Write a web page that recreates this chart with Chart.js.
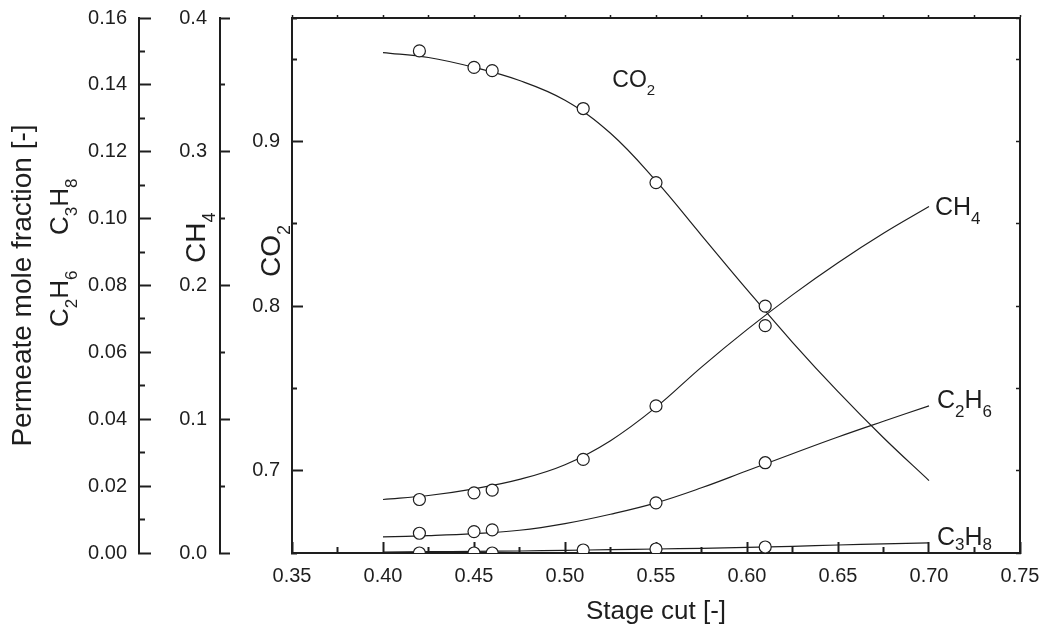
<!DOCTYPE html>
<html>
<head>
<meta charset="utf-8">
<title>Permeate mole fraction vs stage cut</title>
<script src="https://cdn.jsdelivr.net/npm/chart.js@4/dist/chart.umd.min.js"></script>
<style>
  html, body { margin: 0; padding: 0; background: #fff; }
  #wrap { width: 1044px; height: 632px; }
</style>
</head>
<body>
<div id="wrap"><canvas id="chart" width="1044" height="632"></canvas></div>
<script>
const FONT = '"Liberation Sans", Arial, Helvetica, sans-serif';
const INK = "#1e1e1e";

// measured permeate compositions
const stageCut = [0.42, 0.45, 0.46, 0.51, 0.55, 0.61];
const co2Measured = [0.955, 0.945, 0.943, 0.92, 0.875, 0.8];
const ch4Measured = [0.04, 0.045, 0.047, 0.07, 0.11, 0.17];
const c3h8Measured = [0.0, 0.0, 0.0, 0.0009, 0.0012, 0.0018];
const c2h6Cut = [0.42, 0.45, 0.46, 0.55, 0.61];
const c2h6Measured = [0.0059, 0.0064, 0.0069, 0.015, 0.027];

// model curves
const modelCut = [0.4, 0.425, 0.45, 0.475, 0.5, 0.525, 0.55, 0.575, 0.6, 0.625, 0.65, 0.675, 0.7];
const co2Model = [0.954, 0.951, 0.945, 0.937, 0.925, 0.905, 0.876, 0.843, 0.81, 0.778, 0.748, 0.72, 0.694];
const ch4Model = [0.04, 0.043, 0.048, 0.055, 0.066, 0.084, 0.109, 0.139, 0.167, 0.193, 0.217, 0.239, 0.259];
const c2h6Model = [0.0048, 0.0052, 0.0058, 0.0068, 0.0088, 0.0116, 0.015, 0.0195, 0.0246, 0.0297, 0.0347, 0.0394, 0.044];
const c3h8Model = [0.0003, 0.0004, 0.0005, 0.0006, 0.0008, 0.001, 0.0012, 0.0014, 0.0017, 0.002, 0.0024, 0.0027, 0.003];

// axis names
const xTitle = "Stage cut [-]";
const yTitle = "Permeate mole fraction [-]";

function pts(xs, ys) {
  return xs.map((x, i) => ({ x: x, y: ys[i] }));
}

function isMajor(value, step) {
  const r = value / step;
  return Math.abs(r - Math.round(r)) < 1e-6;
}

function modelLine(label, data, axis) {
  return {
    label: label,
    data: data,
    yAxisID: axis,
    showLine: true,
    pointRadius: 0,
    borderColor: INK,
    borderWidth: 1.2,
    tension: 0.4,
    order: 2,
  };
}

function markers(label, data, axis) {
  return {
    label: label,
    data: data,
    yAxisID: axis,
    showLine: false,
    pointRadius: 6,
    pointBorderWidth: 1.2,
    pointBackgroundColor: "#fff",
    pointBorderColor: INK,
    order: 1,
  };
}

// short ticks on a left axis start at the far end of the tick line
function leftTickDash(major, full, short) {
  return (ctx) => (isMajor(ctx.tick.value, major) ? [] : [0, full + 1 - short, 40]);
}

// keep the label padding from pushing the plot area in
function fixWidth(w) {
  return (s) => { s.width = w; s.paddingTop = 0; s.paddingBottom = 0; };
}
function fixHeight(h) {
  return (s) => { s.height = h; s.paddingLeft = 0; s.paddingRight = 0; };
}

function drawFormula(ctx, text, x, y, size, rotated, drop) {
  const subDrop = drop === undefined ? 0.36 : drop;
  ctx.save();
  ctx.translate(x, y);
  if (rotated) ctx.rotate(-Math.PI / 2);
  ctx.textBaseline = "alphabetic";
  ctx.textAlign = "left";
  let cx = 0;
  for (const ch of text) {
    const sub = ch >= "0" && ch <= "9";
    ctx.font = (sub ? Math.round(size * 0.66) : size) + "px " + FONT;
    ctx.fillText(ch, cx, sub ? size * subDrop : 0);
    cx += ctx.measureText(ch).width;
  }
  ctx.restore();
}

const formulaLabels = {
  id: "formulaLabels",
  afterDraw(chart) {
    const { ctx, scales } = chart;
    const x = scales.x;
    const last = modelCut.length - 1;
    const endX = x.getPixelForValue(modelCut[last]);
    ctx.save();
    ctx.fillStyle = INK;
    // axis names
    drawFormula(ctx, "C2H6", scales.yC2.left + 68, 327, 26, true);
    drawFormula(ctx, "C3H8", scales.yC2.left + 68, 235, 26, true);
    drawFormula(ctx, "CH4", scales.yCH4.left + 66, 263, 28, true);
    drawFormula(ctx, "CO2", scales.yCO2.left + 60, 277, 28, true);
    // curve names
    drawFormula(ctx, "CO2", x.getPixelForValue(0.526), scales.yCO2.getPixelForValue(0.933), 23, false);
    drawFormula(ctx, "CH4", endX + 6, scales.yCH4.getPixelForValue(ch4Model[last]) + 8, 25, false);
    drawFormula(ctx, "C2H6", endX + 8, scales.yC2.getPixelForValue(c2h6Model[last]) + 2, 25, false);
    drawFormula(ctx, "C3H8", endX + 8, scales.yC2.getPixelForValue(c3h8Model[last]) + 2, 25, false, 0.2);
    ctx.restore();
  },
};

const tickFont = { family: FONT, size: 20 };

new Chart(document.getElementById("chart"), {
  type: "scatter",
  data: {
    datasets: [
      modelLine("CO2 model", pts(modelCut, co2Model), "yCO2"),
      modelLine("CH4 model", pts(modelCut, ch4Model), "yCH4"),
      modelLine("C2H6 model", pts(modelCut, c2h6Model), "yC2"),
      modelLine("C3H8 model", pts(modelCut, c3h8Model), "yC2"),
      markers("CO2", pts(stageCut, co2Measured), "yCO2"),
      markers("CH4", pts(stageCut, ch4Measured), "yCH4"),
      markers("C2H6", pts(c2h6Cut, c2h6Measured), "yC2"),
      markers("C3H8", pts(stageCut, c3h8Measured), "yC2"),
    ],
  },
  options: {
    responsive: false,
    animation: false,
    layout: { padding: 0 },
    plugins: { legend: { display: false }, tooltip: { enabled: false } },
    scales: {
      x: {
        type: "linear",
        position: "bottom",
        min: 0.35,
        max: 0.75,
        z: 1,
        afterFit: fixHeight(79),
        border: { color: INK, width: 2 },
        grid: {
          drawOnChartArea: false,
          tickLength: -11,
          tickColor: INK,
          tickWidth: 2,
          tickBorderDash: (ctx) => (isMajor(ctx.tick.value, 0.05) ? [] : [7, 40]),
        },
        ticks: {
          stepSize: 0.025,
          autoSkip: false,
          maxRotation: 0,
          padding: 22,
          color: INK,
          font: tickFont,
          callback: (v) => (isMajor(v, 0.05) ? v.toFixed(2) : ""),
        },
        title: {
          display: true,
          text: xTitle,
          color: INK,
          font: { family: FONT, size: 26 },
          padding: { top: 0, bottom: 5 },
        },
      },
      xTop: {
        type: "linear",
        position: "top",
        min: 0.35,
        max: 0.75,
        afterFit: fixHeight(18),
        border: { color: INK, width: 2 },
        grid: { drawOnChartArea: false, tickLength: 3, tickColor: INK, tickWidth: 1.5 },
        ticks: { stepSize: 0.025, display: false },
      },
      yC2: {
        type: "linear",
        position: "left",
        weight: 3,
        min: 0,
        max: 0.16,
        afterFit: fixWidth(139),
        border: { color: INK, width: 2 },
        grid: {
          drawOnChartArea: false,
          tickLength: -12,
          tickColor: INK,
          tickWidth: 2,
          tickBorderDash: leftTickDash(0.02, 12, 7),
        },
        ticks: {
          stepSize: 0.01,
          autoSkip: false,
          padding: 24,
          color: INK,
          font: tickFont,
          callback: (v) => (isMajor(v, 0.02) ? v.toFixed(2) : ""),
        },
        title: {
          display: true,
          text: yTitle,
          color: INK,
          font: { family: FONT, size: 28 },
          padding: { top: 6, bottom: 0 },
        },
      },
      yCH4: {
        type: "linear",
        position: "left",
        weight: 2,
        min: 0,
        max: 0.4,
        afterFit: fixWidth(81),
        border: { color: INK, width: 2 },
        grid: {
          drawOnChartArea: false,
          tickLength: -10,
          tickColor: INK,
          tickWidth: 2,
          tickBorderDash: leftTickDash(0.1, 10, 6),
        },
        ticks: {
          stepSize: 0.05,
          autoSkip: false,
          padding: 23,
          color: INK,
          font: tickFont,
          callback: (v) => (isMajor(v, 0.1) ? v.toFixed(1) : ""),
        },
      },
      yCO2: {
        type: "linear",
        position: "left",
        weight: 1,
        min: 0.65,
        max: 0.975,
        afterFit: fixWidth(72),
        border: { color: INK, width: 2 },
        grid: {
          drawOnChartArea: false,
          tickLength: -11,
          tickColor: INK,
          tickWidth: 2,
          tickBorderDash: leftTickDash(0.1, 11, 6),
        },
        ticks: {
          stepSize: 0.05,
          autoSkip: false,
          padding: 23,
          color: INK,
          font: tickFont,
          callback: (v) => (isMajor(v, 0.1) && v > 0.66 ? v.toFixed(1) : ""),
        },
      },
      yRight: {
        type: "linear",
        position: "right",
        min: 0.65,
        max: 0.975,
        afterFit: fixWidth(24),
        border: { color: INK, width: 2 },
        grid: { drawOnChartArea: false, tickLength: -4, tickColor: INK, tickWidth: 1.5 },
        ticks: { stepSize: 0.05, display: false },
      },
    },
  },
  plugins: [formulaLabels],
});
</script>
</body>
</html>
